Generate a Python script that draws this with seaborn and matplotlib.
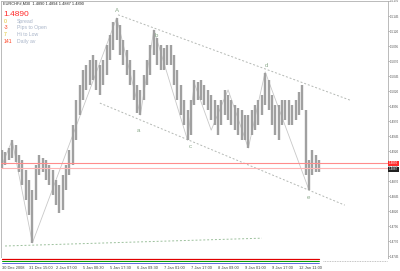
import matplotlib
matplotlib.use("Agg")
import matplotlib.pyplot as plt
import seaborn as sns
import pandas as pd
import numpy as np

# ---- data ----
bar_high = [1.4922, 1.4918, 1.4925, 1.4938, 1.4930, 1.4913, 1.4905, 1.4888, 1.4872, 1.4855,
            1.4897, 1.4913, 1.4908, 1.4905, 1.4897, 1.4888, 1.4872, 1.4863, 1.4880, 1.4897,
            1.4922, 1.4963, 1.5005, 1.5030, 1.5055, 1.5063, 1.5072, 1.5080, 1.5072, 1.5063,
            1.5072, 1.5097, 1.5113, 1.5135, 1.5142, 1.5130, 1.5105, 1.5088, 1.5072, 1.5055,
            1.5030, 1.5022, 1.5047, 1.5072, 1.5097, 1.5122, 1.5108, 1.5097, 1.5092, 1.5097,
            1.5097, 1.5080, 1.5055, 1.5030, 1.5005, 1.4988, 1.5005, 1.5038, 1.5035, 1.5038,
            1.5030, 1.5022, 1.5013, 1.5005, 1.4997, 1.5005, 1.5022, 1.5013, 1.5005, 1.4997,
            1.4992, 1.4988, 1.4980, 1.4980, 1.4988, 1.4997, 1.5005, 1.5013, 1.5050, 1.5038,
            1.5013, 1.4997, 1.4997, 1.5005, 1.5005, 1.5005, 1.4997, 1.5005, 1.5018, 1.5030,
            1.4988, 1.4905, 1.4922, 1.4913, 1.4905]
bar_low = [1.4892, 1.4897, 1.4905, 1.4908, 1.4902, 1.4885, 1.4863, 1.4838, 1.4813, 1.4767,
           1.4838, 1.4880, 1.4885, 1.4872, 1.4863, 1.4847, 1.4830, 1.4817, 1.4822, 1.4855,
           1.4880, 1.4897, 1.4938, 1.4980, 1.5005, 1.5022, 1.5030, 1.5038, 1.5022, 1.5013,
           1.5030, 1.5047, 1.5072, 1.5088, 1.5105, 1.5080, 1.5063, 1.5047, 1.5030, 1.5005,
           1.4983, 1.4980, 1.5005, 1.5030, 1.5047, 1.5080, 1.5063, 1.5055, 1.5055, 1.5063,
           1.5063, 1.5030, 1.5005, 1.4980, 1.4963, 1.4938, 1.4947, 1.4997, 1.5005, 1.5005,
           1.4997, 1.4988, 1.4972, 1.4963, 1.4947, 1.4963, 1.4980, 1.4972, 1.4963, 1.4955,
           1.4947, 1.4938, 1.4938, 1.4925, 1.4947, 1.4955, 1.4963, 1.4980, 1.4997, 1.4988,
           1.4963, 1.4947, 1.4938, 1.4963, 1.4972, 1.4963, 1.4963, 1.4972, 1.4980, 1.4988,
           1.4880, 1.4855, 1.4880, 1.4885, 1.4885]

zigzag_bar = [0, 3, 9, 34, 41, 45, 55, 57, 62, 67, 73, 78, 91]
zigzag_price = [1.4897, 1.4938, 1.4767, 1.5142, 1.4980, 1.5122, 1.4938, 1.5033,
                1.4955, 1.5022, 1.4925, 1.5052, 1.4855]

upper_channel_bar = [34.4, 103.1]
upper_channel_price = [1.5147, 1.5005]
lower_channel_bar = [29.0, 101.6]
lower_channel_price = [1.5000, 1.4830]
support_bar = [0.9, 77.0]
support_price = [1.4762, 1.4775]

wave_labels = ["A", "a", "b", "c", "d", "e"]
wave_bar = [34.1, 40.3, 45.6, 55.7, 78.5, 90.7]
wave_price = [1.5155, 1.4955, 1.5112, 1.4928, 1.5062, 1.4842]

ask_price = 1.4900
bid_price = 1.4892

y_ticks = [1.4745, 1.4770, 1.4795, 1.4820, 1.4845, 1.4870, 1.4895, 1.4920, 1.4945,
           1.4970, 1.4995, 1.5020, 1.5045, 1.5070, 1.5095, 1.5120, 1.5145, 1.5170]
x_tick_bars = [0, 8, 16, 24, 32, 40, 48, 56, 64, 72, 80, 88]
x_tick_labels = ["30 Dec 2008", "31 Dec 15:00", "2 Jan 07:00", "5 Jan 00:30", "5 Jan 17:30",
                 "6 Jan 09:30", "7 Jan 01:00", "7 Jan 17:00", "8 Jan 09:00", "9 Jan 01:00",
                 "9 Jan 17:00", "12 Jan 11:00"]

info_values = ["0", "-3", "7", "141"]
info_names = ["Spread", "Pips to Open", "Hi to Low", "Daily av"]
info_colors = ["#e0c020", "#ff4020", "#e0c020", "#ff4020"]

strip_colors = ["#e00000", "#00a000", "#2030d0"]

# ---- figure ----
sns.set_theme(style="white")
plt.rcParams["font.family"] = ["Liberation Sans", "DejaVu Sans"]

fig = plt.figure(figsize=(4.0, 2.71), dpi=100)
W, H = 400, 271
ax = fig.add_axes([1 / W, 13 / H, 387 / W, 257 / H])
sax = fig.add_axes([1 / W, 7 / H, 387 / W, 6 / H], sharex=ax)

n = len(bar_high)
bars = pd.DataFrame({"bar": np.arange(n), "high": bar_high, "low": bar_low})
ax.vlines(bars["bar"], bars["low"], bars["high"], color="#a0a0a0", lw=1.7, zorder=3)

zz = pd.DataFrame({"bar": zigzag_bar, "price": zigzag_price})
sns.lineplot(data=zz, x="bar", y="price", ax=ax, color="#c8c8c8", lw=0.6, zorder=2)

for bx, py, col in [(upper_channel_bar, upper_channel_price, "#b4b8b4"),
                    (lower_channel_bar, lower_channel_price, "#b4b8b4"),
                    (support_bar, support_price, "#9cc09c")]:
    d = pd.DataFrame({"bar": bx, "price": py})
    sns.lineplot(data=d, x="bar", y="price", ax=ax, color=col, lw=0.7,
                 linestyle=(0, (2, 2)), zorder=2)

for t, bx, py in zip(wave_labels, wave_bar, wave_price):
    ax.text(bx, py, t, fontsize=4.4, color="#8aa88a", ha="center", va="center", zorder=5)

ax.axhline(ask_price, color="#ff8c8c", lw=0.8, zorder=4)
ax.axhline(bid_price, color="#ffb4b4", lw=0.8, zorder=4)

ax.set_xlim(-0.3, 114.4)
ax.set_ylim(1.4742, 1.5170)
ax.yaxis.tick_right()
ax.set_yticks(y_ticks)
ax.set_yticklabels([f"{v:.4f}" for v in y_ticks])
ax.tick_params(axis="y", labelsize=2.2, colors="#505050", length=1.0, width=0.5, pad=0.4)
ax.tick_params(axis="x", bottom=False, labelbottom=False)
ax.set_xlabel("")
ax.set_ylabel("")
for s in ax.spines.values():
    s.set_color("#b0b0b0")
    s.set_linewidth(0.6)

# price labels on the right axis
ax.text(1.002, ask_price, "1.4890", transform=ax.get_yaxis_transform(), fontsize=2.2,
        color="white", va="center", ha="left",
        bbox=dict(boxstyle="square,pad=0.2", fc="#ff2a2a", ec="none"), clip_on=False)
ax.text(1.002, bid_price - 0.0002, "1.4887", transform=ax.get_yaxis_transform(), fontsize=2.2,
        color="white", va="center", ha="left",
        bbox=dict(boxstyle="square,pad=0.2", fc="#202020", ec="none"), clip_on=False)

# header texts
fig.text(3 / W, 1 - 4 / H, "EURCHF#,M30  1.4890 1.4894 1.4887 1.4890", fontsize=2.8,
         color="#202020", va="center", ha="left")
fig.text(3 / W, 1 - 15 / H, "1.4890", fontsize=6.0, color="#ff2a2a", va="center", ha="left")
for k, (v, nm, c) in enumerate(zip(info_values, info_names, info_colors)):
    yy = 1 - (21 + 6.8 * k) / H
    fig.text(4 / W, yy, v, fontsize=3.7, color=c, va="center", ha="left")
    fig.text(17 / W, yy, nm, fontsize=3.7, color="#a8b4c8", va="center", ha="left")

# bottom indicator strip
for k, c in enumerate(strip_colors):
    sax.plot([0, n - 1], [0.8 - 0.3 * k, 0.8 - 0.3 * k], color=c, lw=0.9 - 0.2 * k)
sax.plot([n, 114], [0.5, 0.5], color="#b0b0b0", lw=0.6, linestyle=(0, (1, 1)))
sax.set_ylim(0, 1)
sax.set_yticks([])
sax.set_xticks(x_tick_bars)
sax.set_xticklabels(x_tick_labels, ha="left")
sax.tick_params(axis="x", labelsize=2.9, colors="#404040", length=0, pad=1.5)
for s in sax.spines.values():
    s.set_visible(False)
sax.set_xlabel("")

fig.savefig("out.png", dpi=100)
